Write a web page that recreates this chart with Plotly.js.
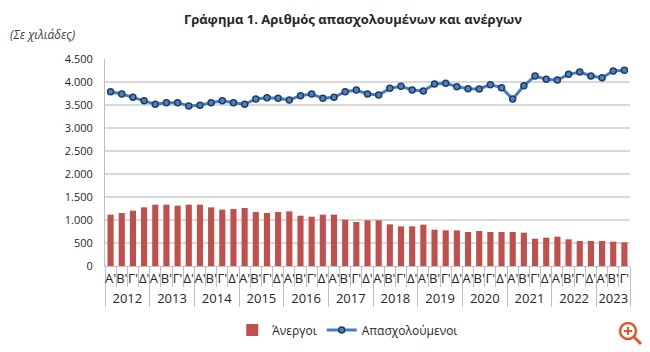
<!DOCTYPE html>
<html>
<head>
<meta charset="utf-8">
<script src="https://cdn.plot.ly/plotly-3.0.1.min.js"></script>
<style>html,body{margin:0;padding:0;background:#fff;}#chart{width:650px;height:352px;}</style>
</head>
<body>
<div id="chart"></div>
<script>
const years = ['2012','2013','2014','2015','2016','2017','2018','2019','2020','2021','2022','2023'];
const quarterLabels = ["Α'","Β'","Γ'","Δ'"];
const quartersPerYear = [4,4,4,4,4,4,4,4,4,4,4,3];

const unemployed = [1116,1152,1203,1275,1333,1333,1312,1333,1333,1275,1225,1239,1261,1174,1152,1174,
  1188,1094,1072,1116,1116,1007,956,993,993,906,862,862,898,790,775,775,739,761,739,739,
  739,725,594,616,638,580,543,543,543,529,514];
const employed = [3790,3739,3667,3594,3515,3551,3551,3478,3493,3551,3594,3551,3515,3630,3659,3645,
  3609,3703,3739,3645,3667,3790,3826,3739,3717,3862,3906,3826,3804,3957,3971,3899,3855,3848,3942,3877,
  3630,3920,4131,4058,4044,4167,4218,4131,4094,4239,4254];

const xYears = [], xQuarters = [];
years.forEach((y, i) => {
  for (let q = 0; q < quartersPerYear[i]; q++) { xYears.push(y); xQuarters.push(quarterLabels[q]); }
});
const nCats = xQuarters.length;

const font = "'Open Sans', 'Noto Sans', sans-serif";
const narrow = "'Liberation Sans Narrow', 'Open Sans', sans-serif";

const traces = [
  {
    type: 'bar', name: 'Άνεργοι',
    x: [xYears, xQuarters], y: unemployed,
    marker: {color: '#c0504d'},
    hoverinfo: 'y'
  },
  {
    type: 'scatter', mode: 'lines+markers', name: 'Απασχολούμενοι',
    x: [xYears, xQuarters], y: employed,
    line: {color: '#4a7ebb', width: 3},
    marker: {size: 6, color: '#4f81bd', line: {color: '#1f3d6b', width: 1.5}},
    hoverinfo: 'y'
  }
];

const layout = {
  width: 650, height: 352,
  margin: {l: 105, r: 20, t: 59, b: 86, autoexpand: false},
  paper_bgcolor: '#ffffff', plot_bgcolor: '#ffffff',
  separators: ',.',
  bargap: 0.45,
  font: {family: font, color: '#262626', size: 11},
  title: {
    text: '<b>Γράφημα 1. Αριθμός απασχολουμένων και ανέργων</b>',
    font: {family: font, size: 13, color: '#262626'},
    x: 0.543, xref: 'container', xanchor: 'center',
    y: 1 - 19/352, yref: 'container', yanchor: 'middle', automargin: false
  },
  annotations: [{
    text: '<i>(Σε χιλιάδες)</i>', xref: 'paper', yref: 'paper',
    x: (8-105)/525, y: 1 + 24/207, xanchor: 'left', yanchor: 'middle',
    showarrow: false, font: {family: font, size: 12, color: '#404040'}
  }],
  xaxis: {
    type: 'multicategory', automargin: false,
    range: [-0.5, nCats - 0.5], autorange: false,
    tickangle: 0, dtick: 1,
    showline: true, linecolor: '#bfbfbf', linewidth: 1,
    ticks: 'outside', ticklen: 20, tickcolor: '#bfbfbf', tickwidth: 1,
    showdividers: true, dividercolor: '#bfbfbf', dividerwidth: 1,
    tickfont: {family: narrow, size: 13, color: '#262626'},
    showgrid: false, fixedrange: true
  },
  yaxis: {
    automargin: false,
    range: [0, 4500], dtick: 500, tickformat: ',d',
    showline: true, linecolor: '#bfbfbf', linewidth: 1,
    gridcolor: '#d9d9d9', gridwidth: 1.5,
    zeroline: false,
    ticks: 'outside', ticklen: 9, tickcolor: 'rgba(0,0,0,0)',
    tickfont: {family: font, size: 11, color: '#262626'},
    fixedrange: true
  },
  legend: {
    orientation: 'h', xref: 'container', yref: 'container',
    x: 0.535, xanchor: 'center', y: 1 - 330/352, yanchor: 'middle',
    font: {family: font, size: 12, color: '#262626'},
    itemwidth: 30, traceorder: 'normal'
  },
  shapes: [
    {type: 'circle', xref: 'paper', yref: 'paper',
     x0: (620-105)/525, x1: (636-105)/525, y0: (266-339)/207, y1: (266-323)/207,
     line: {color: '#e8542a', width: 2.5}},
    {type: 'line', xref: 'paper', yref: 'paper',
     x0: (634-105)/525, x1: (641-105)/525, y0: (266-337)/207, y1: (266-344)/207,
     line: {color: '#e8542a', width: 3}},
    {type: 'line', xref: 'paper', yref: 'paper',
     x0: (624-105)/525, x1: (632-105)/525, y0: (266-331)/207, y1: (266-331)/207,
     line: {color: '#e8542a', width: 2}},
    {type: 'line', xref: 'paper', yref: 'paper',
     x0: (628-105)/525, x1: (628-105)/525, y0: (266-327)/207, y1: (266-335)/207,
     line: {color: '#e8542a', width: 2}}
  ]
};

Plotly.newPlot('chart', traces, layout, {displayModeBar: false, staticPlot: true});
</script>
</body>
</html>
